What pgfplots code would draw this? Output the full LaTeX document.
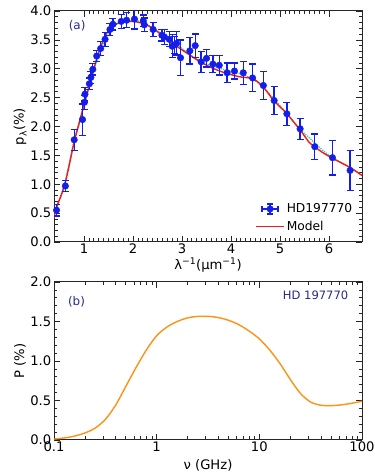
\documentclass[border=0pt]{standalone}
\usepackage{fontspec}
\setmainfont{DejaVu Sans}
\usepackage{pgfplots}
\usepackage{pgfplotstable}
\pgfplotsset{compat=1.18}
\definecolor{ptblue}{RGB}{20,30,235}
\definecolor{labblue}{RGB}{40,40,140}
\definecolor{modred}{RGB}{245,25,25}
\definecolor{cyandot}{RGB}{40,200,210}
\definecolor{orng}{RGB}{255,145,20}

\pgfplotstableread{
x y ey
0.44 0.55 0.10
0.62 0.97 0.10
0.80 1.77 0.18
0.97 2.12 0.27
1.01 2.42 0.12
1.02 2.56 0.12
1.11 2.74 0.10
1.14 2.85 0.10
1.18 2.99 0.10
1.26 3.22 0.10
1.34 3.35 0.12
1.43 3.51 0.12
1.53 3.68 0.10
1.59 3.77 0.10
1.76 3.82 0.12
1.87 3.84 0.13
2.03 3.86 0.17
2.21 3.83 0.10
2.23 3.76 0.12
2.41 3.68 0.12
2.59 3.58 0.10
2.64 3.55 0.13
2.74 3.51 0.13
2.80 3.39 0.20
2.84 3.41 0.15
2.89 3.44 0.20
2.97 3.19 0.31
3.16 3.31 0.23
3.27 3.40 0.20
3.39 3.12 0.18
3.50 3.18 0.15
3.63 3.08 0.15
3.76 3.06 0.17
3.92 2.93 0.17
4.07 2.96 0.14
4.25 2.93 0.20
4.44 2.84 0.24
4.66 2.71 0.24
4.88 2.45 0.24
5.14 2.22 0.20
5.41 1.96 0.18
5.71 1.65 0.22
6.07 1.46 0.30
6.43 1.24 0.35
}\obsdata

\pgfplotstableread{
x y
0.388 0.42
0.43 0.58
0.61 1.00
0.80 1.73
0.90 2.05
0.99 2.34
1.08 2.62
1.16 2.86
1.26 3.18
1.36 3.42
1.46 3.61
1.56 3.72
1.67 3.78
1.80 3.81
1.95 3.82
2.08 3.81
2.28 3.76
2.50 3.64
2.75 3.47
2.96 3.35
3.17 3.23
3.37 3.12
3.55 3.04
3.71 2.98
3.91 2.92
4.18 2.86
4.44 2.83
4.59 2.74
4.72 2.62
4.86 2.46
5.00 2.34
5.14 2.22
5.41 1.94
5.60 1.72
5.71 1.65
5.85 1.56
6.09 1.44
6.43 1.29
6.673 1.15
}\modeldata

\pgfplotstableread{
x y
0.388 0.45
0.60 1.00
0.80 1.76
1.00 2.38
1.20 2.98
1.40 3.43
1.60 3.72
1.80 3.82
2.00 3.84
2.20 3.80
2.40 3.71
2.60 3.60
2.80 3.47
3.00 3.35
3.20 3.22
3.40 3.12
3.60 3.05
3.80 3.00
4.00 2.95
4.20 2.91
4.40 2.84
4.60 2.72
4.80 2.55
5.00 2.36
5.20 2.16
5.40 1.96
5.60 1.80
5.80 1.64
6.00 1.50
6.20 1.40
6.40 1.30
6.673 1.16
}\cyandata

\pgfplotstableread{
x y
0.1 0.012
0.1259 0.026
0.1585 0.050
0.1995 0.088
0.2512 0.150
0.3162 0.260
0.3981 0.440
0.5012 0.680
0.6310 0.920
0.7943 1.14
1.0 1.32
1.2589 1.43
1.5849 1.50
1.9953 1.545
2.5119 1.565
3.1623 1.565
3.9811 1.55
5.0119 1.515
6.3096 1.46
7.9433 1.38
10.0 1.28
12.589 1.14
15.849 0.97
19.953 0.77
25.119 0.59
31.623 0.48
39.811 0.44
50.119 0.435
63.096 0.445
79.433 0.465
100 0.49
}\radiodata

\begin{document}
\begin{tikzpicture}[x=1bp,y=1bp]
\useasboundingbox (0,0) rectangle (374,472);
\pgfplotsset{
 myax/.style={
  scale only axis, width=308bp,
  axis line style={line width=1bp, black!85},
  tick style={line width=0.7bp, black!85},
  tick align=inside, tick pos=both,
  major tick length=6bp, minor tick length=3.5bp,
  font=\fontsize{13.2}{15}\selectfont,
  xticklabel style={inner sep=2bp},
  yticklabel style={inner sep=2.5bp},
  every axis y label/.style={at={(axis description cs:-0.110,0.5)}, rotate=90, anchor=center},
 }
}
\begin{axis}[myax, at={(54bp,230bp)}, anchor=south west, height=231bp,
  xmin=0.388, xmax=6.673, ymin=0, ymax=4,
  xtick={1,2,3,4,5,6}, xticklabels={1,2,3,4,5,6}, minor x tick num=9,
  ytick={0,0.5,1,1.5,2,2.5,3,3.5,4},
  yticklabels={0.0,0.5,1.0,1.5,2.0,2.5,3.0,3.5,4.0}, minor y tick num=4,
  xlabel={λ\textsuperscript{−1}(μm\textsuperscript{−1})},
  every axis x label/.style={at={(axis description cs:0.5,-0.100)}, anchor=center},
  ylabel={p\textsubscript{λ}(\%)},
  legend style={at={(axis description cs:0.985,0.025)}, anchor=south east, draw=none, fill=none,
    font=\fontsize{12.3}{14}\selectfont, row sep=3bp, legend cell align=left},
]
\addplot[cyandot, line width=1.3bp, densely dotted, smooth, forget plot] table[x=x,y=y]{\cyandata};
\addplot[modred, line width=1.4bp, smooth, forget plot] table[x=x,y=y]{\modeldata};
\addplot[ptblue, only marks, mark=*, mark size=3.3bp,
  legend image code/.code={
    \draw[ptblue,line width=1.3bp] (6bp,0bp)--(22bp,0bp) (14bp,-5bp)--(14bp,5bp)
      (6bp,-3bp)--(6bp,3bp) (22bp,-3bp)--(22bp,3bp) (11bp,5bp)--(17bp,5bp) (11bp,-5bp)--(17bp,-5bp);
    \fill[ptblue] (14bp,0bp) circle (3.3bp);},
  error bars/.cd, y dir=both, y explicit,
  error bar style={line width=1.3bp, ptblue},
  error mark options={rotate=90, line width=1.3bp, mark size=3.5bp, ptblue}]
  table[x=x,y=y,y error=ey]{\obsdata};
\addlegendentry{HD197770}
\addlegendimage{modred, line width=1.4bp, legend image code/.code={\draw[modred,line width=1.4bp] (0bp,0bp)--(28bp,0bp);}}
\addlegendentry{Model}
\node[labblue, font=\fontsize{12}{14}\selectfont] at (axis cs:0.86,3.74) {(a)};
\end{axis}

\begin{axis}[myax, at={(54bp,32bp)}, anchor=south west, height=158bp,
  xmode=log, xmin=0.1, xmax=100, ymin=0, ymax=2,
  xtick={0.1,1,10,100}, xticklabels={0.1,1,10,100},
  ytick={0,0.5,1,1.5,2}, yticklabels={0.0,0.5,1.0,1.5,2.0}, minor y tick num=4,
  xlabel={ν (GHz)},
  every axis x label/.style={at={(axis description cs:0.5,-0.160)}, anchor=center},
  ylabel={P (\%)},
]
\addplot[orng, line width=1.4bp, smooth] table[x=x,y=y]{\radiodata};
\node[labblue, font=\fontsize{12}{14}\selectfont] at (axis description cs:0.073,0.877) {(b)};
\node[labblue, font=\fontsize{11.6}{14}\selectfont, anchor=east] at (axis description cs:0.967,0.915) {HD 197770};
\end{axis}
\end{tikzpicture}
\end{document}
